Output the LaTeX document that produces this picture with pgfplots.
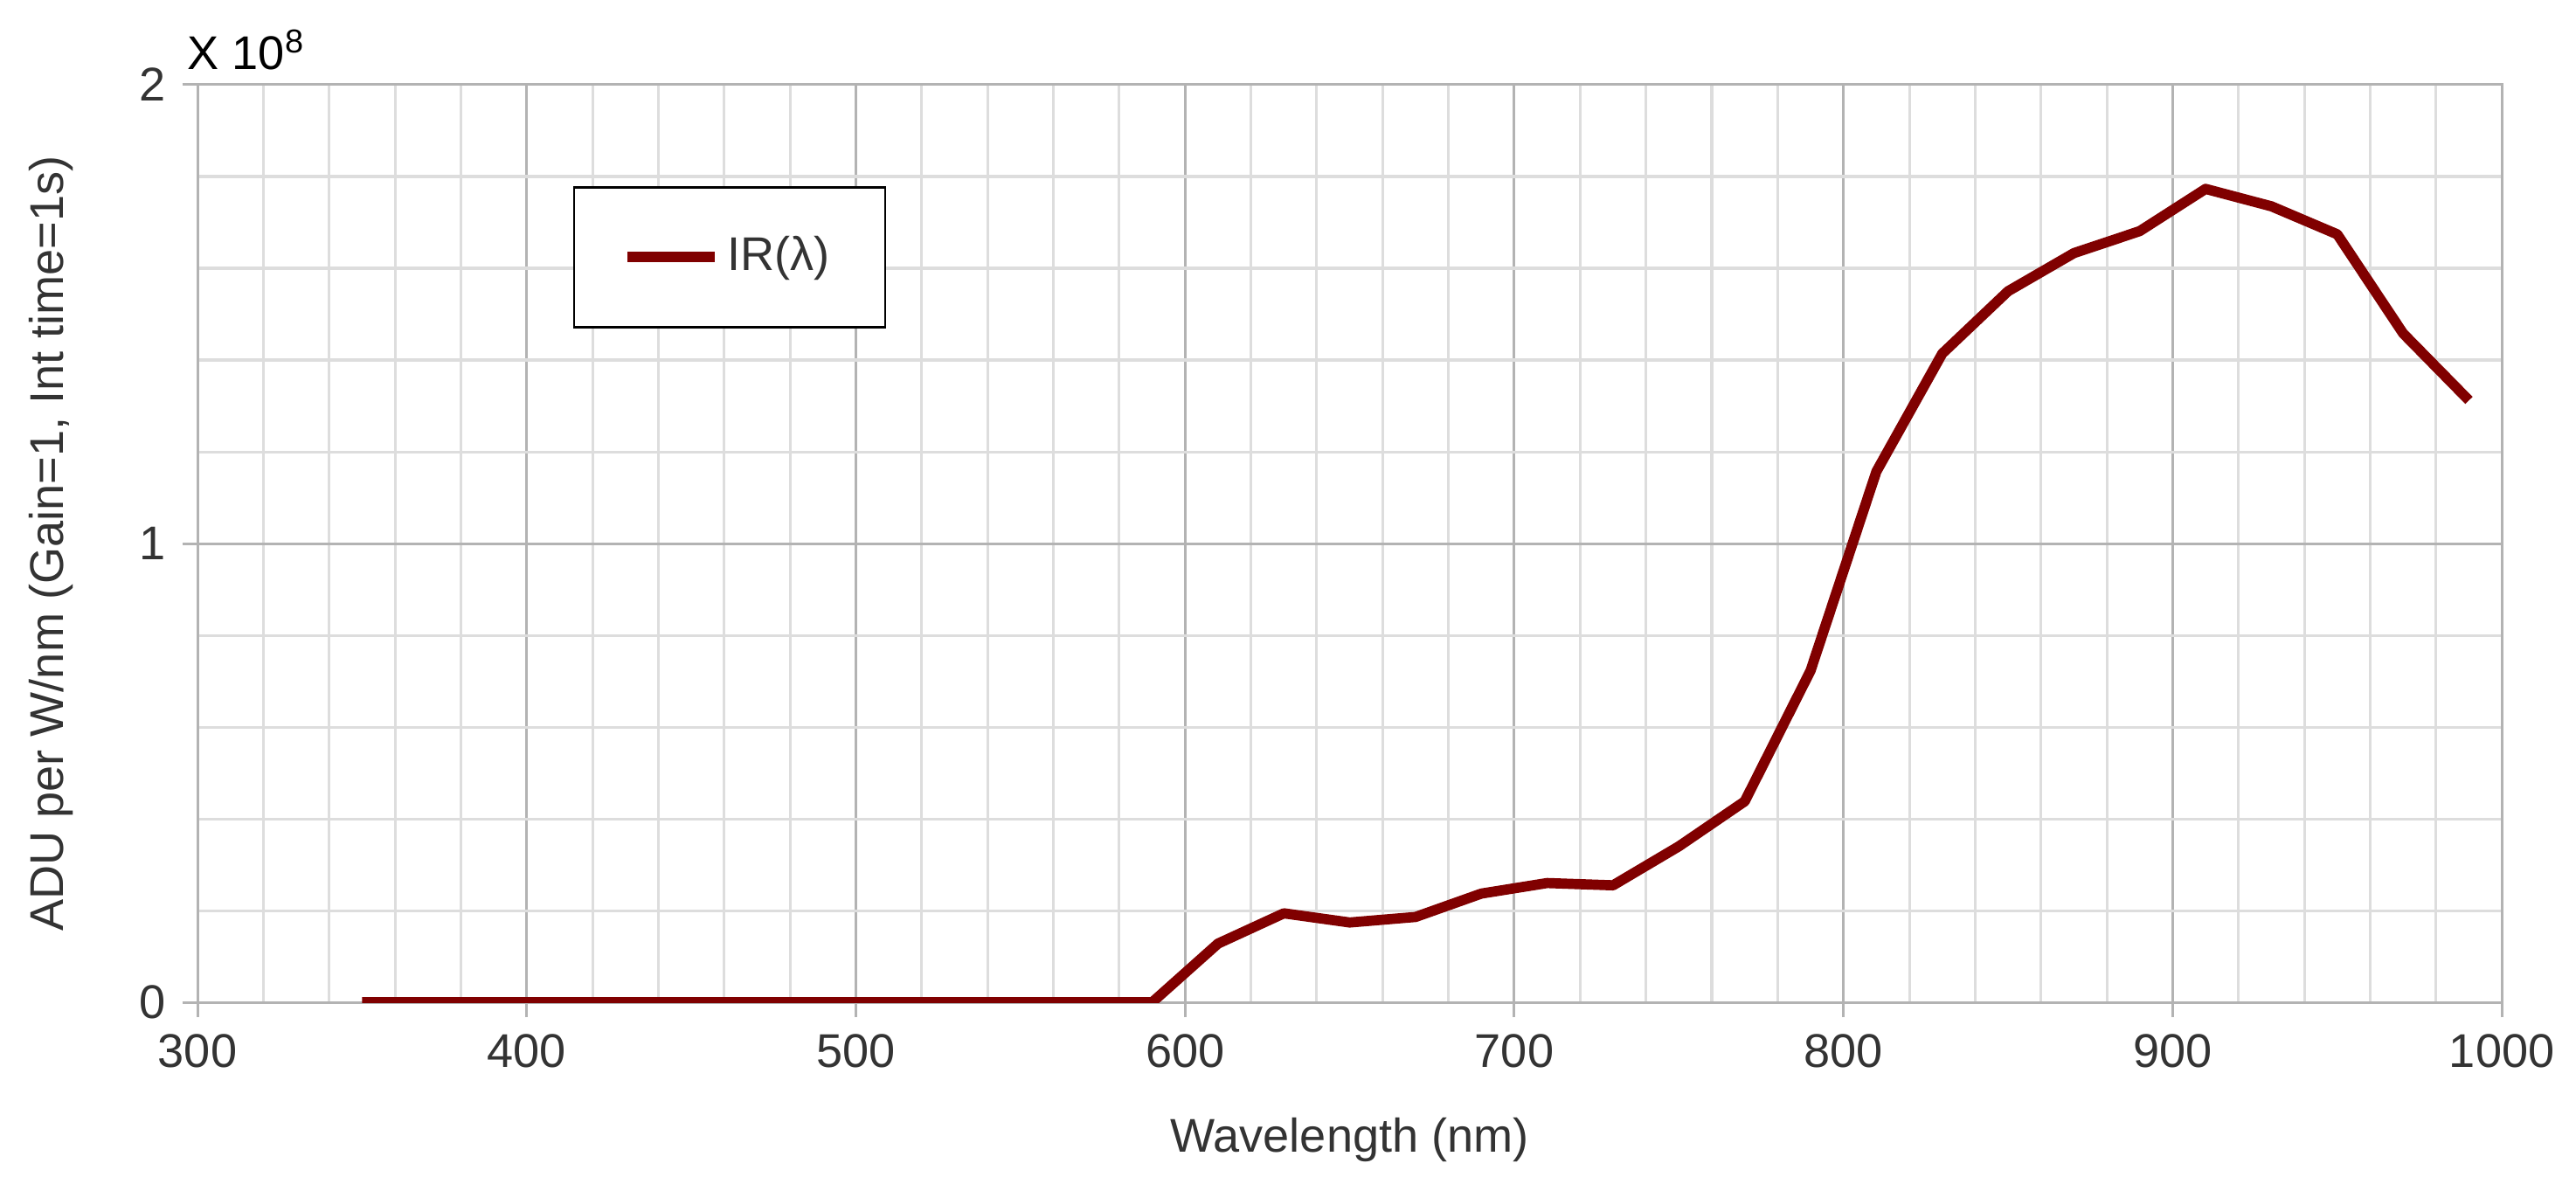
\documentclass[border=0pt]{standalone}
\usepackage{pgfplots}
\pgfplotsset{compat=1.18}
\usepackage{fontspec}
\setmainfont{Liberation Sans}

\definecolor{irred}{HTML}{800000}
\definecolor{gridmaj}{HTML}{B3B3B3}
\definecolor{gridmin}{HTML}{DDDDDD}
\definecolor{txt}{HTML}{333333}

\begin{document}
\fontsize{12.5}{15}\selectfont
\begin{tikzpicture}
\begin{axis}[
  scale only axis, width=609pt, height=242.5pt,
  xmin=300, xmax=1000, ymin=0, ymax=2,
  xtick={300,400,...,1000}, ytick={0,1,2},
  minor x tick num=4, minor y tick num=4,
  grid=both,
  major grid style={gridmaj, line width=0.7pt},
  minor grid style={gridmin, line width=0.7pt},
  axis line style={gridmaj, line width=0.7pt},
  tick align=outside, major tick length=4pt, minor tick length=0pt,
  tick style={gridmaj, line width=0.7pt},
  xtick pos=left, ytick pos=left,
  /pgf/number format/assume math mode=true,
  /pgf/number format/1000 sep={},
  ticklabel style={font=\fontsize{12.5}{15}\selectfont, text=txt},
  xlabel={Wavelength (nm)},
  ylabel={ADU per W/nm (Gain=1, Int time=1s)},
  label style={font=\fontsize{12.5}{15}\selectfont, text=txt},
  xlabel style={at={([yshift=-36.3pt]axis description cs:0.5,0)}, anchor=center},
  ylabel style={at={([xshift=-38.8pt]axis description cs:0,0.5)}, anchor=center},
  legend style={at={(0.163,0.8895)}, anchor=north west, draw=black, line width=0.6pt,
    inner xsep=12.7pt, inner ysep=11pt, font=\fontsize{12.5}{15}\selectfont, text=txt},
  legend cell align=left,
  legend image code/.code={\draw[#1] (0pt,0pt) -- (23pt,0pt);},
]
\addplot[irred, line width=2.7pt, line join=round] coordinates {
  (350,0) (370,0) (390,0) (410,0) (430,0) (450,0) (470,0) (490,0)
  (510,0) (530,0) (550,0) (570,0) (590,0)
  (610,0.128) (630,0.194) (650,0.174) (670,0.186) (690,0.237)
  (710,0.260) (730,0.255) (750,0.340) (770,0.438) (790,0.723)
  (810,1.157) (830,1.414) (850,1.550) (870,1.633) (890,1.681)
  (910,1.773) (930,1.735) (950,1.674) (970,1.458) (990,1.312)
};
\addlegendentry{IR(λ)}
\coordinate (sw) at (rel axis cs:0,0);
\coordinate (ne) at (rel axis cs:1,1);
\end{axis}
\node[anchor=base west, inner sep=0pt] at ([xshift=-2.8pt,yshift=4pt]sw |- ne) {X 10\textsuperscript{8}};
\pgfresetboundingbox
\path ([shift={(-52.2pt,-47.8pt)}]sw) rectangle ([shift={(19.6pt,22.4pt)}]ne);
\end{tikzpicture}
\end{document}
